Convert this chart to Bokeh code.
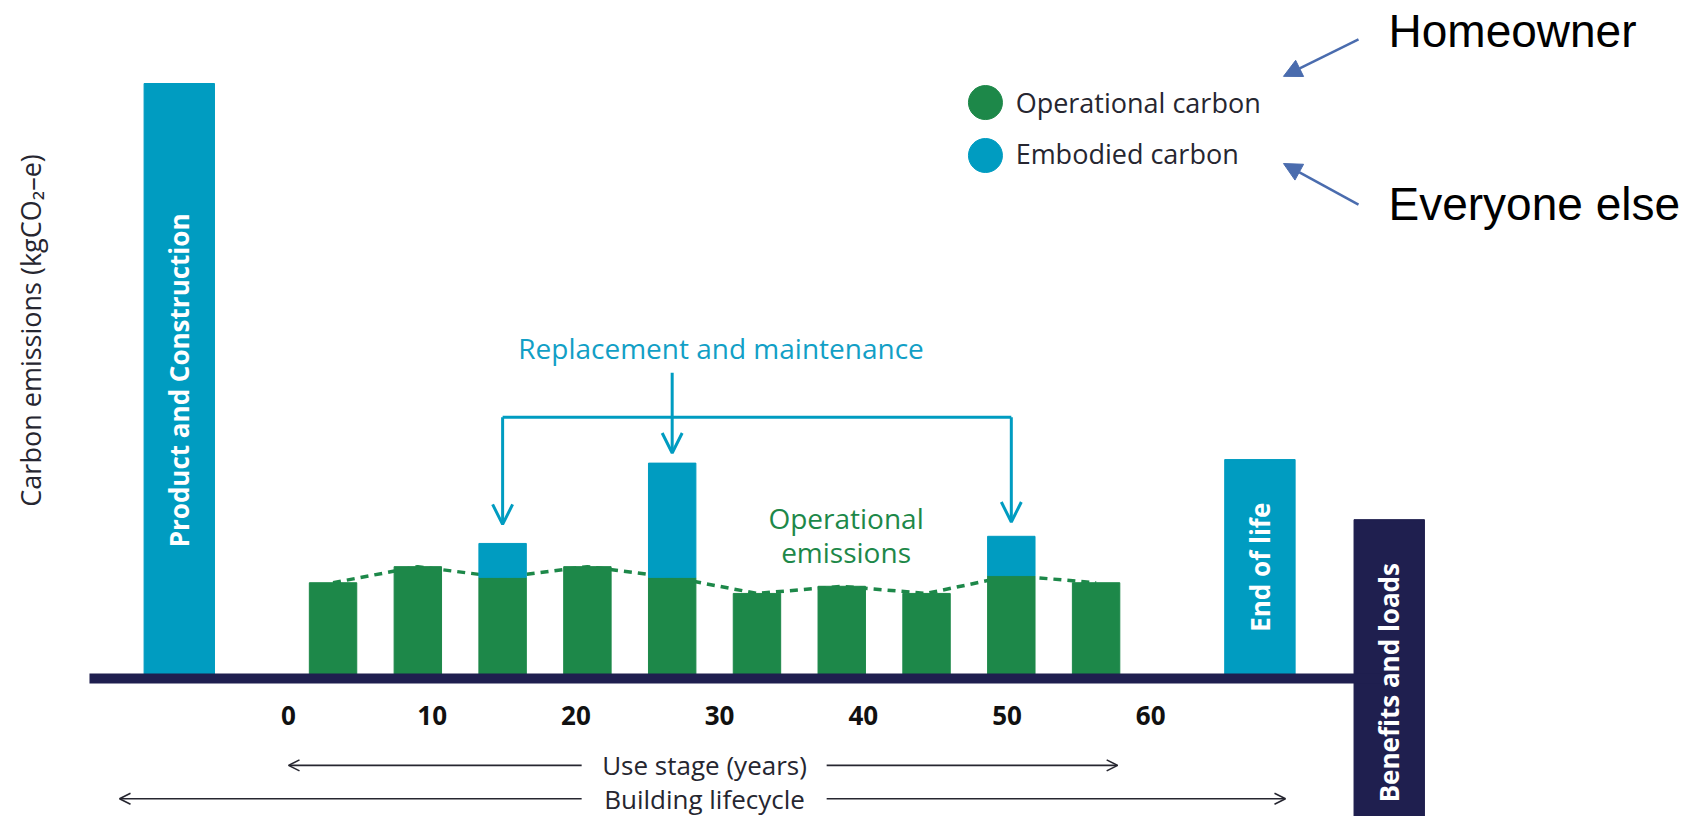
import math
from bokeh.plotting import figure
from bokeh.models import Range1d, Arrow, OpenHead, NormalHead
from bokeh.core.properties import value
from bokeh.embed import file_html
from bokeh.resources import INLINE

# ---------------- data ----------------
tick_years = [0, 10, 20, 30, 40, 50, 60]
tick_labels = ["0", "10", "20", "30", "40", "50", "60"]

use_year = [3.1, 9.0, 14.9, 20.8, 26.7, 32.6, 38.5, 44.4, 50.3, 56.2]
operational = [16.1, 18.8, 17.0, 18.8, 17.0, 14.3, 15.5, 14.3, 17.3, 16.1]
embodied = [0.0, 0.0, 5.7, 0.0, 19.2, 0.0, 0.0, 0.0, 6.6, 0.0]

stage_names = ["Product and Construction", "End of life", "Benefits and loads"]
stage_x = [-7.6, 67.6, 76.6]
stage_top = [100.0, 36.8, 26.7]
stage_bottom = [0.0, 0.0, -30.0]

legend_labels = ["Operational carbon", "Embodied carbon"]
role_labels = ["Homeowner", "Everyone else"]

GREEN = "#1d8849"
CYAN = "#009cc1"
NAVY = "#1f1f4f"
STEEL = "#4a6cae"
DARK = "#262630"

FONT = value("Open Sans")

p = figure(width=1688, height=816,
           x_range=Range1d(-20.042, 97.425), y_range=Range1d(-23.19, 113.95),
           output_backend="svg", toolbar_location=None,
           x_axis_location=None, y_axis_location=None, min_border=0)
p.grid.visible = False
p.outline_line_color = None
p.background_fill_color = "white"
p.border_fill_color = "white"

# dashed operational trend (behind bars)
p.line(use_year, operational, line_dash="8 6", line_width=3.5, color=GREEN)

# use-stage bars
p.vbar(x=use_year, width=3.3, bottom=0, top=operational, color=GREEN)
emb_x = [x for x, e in zip(use_year, embodied) if e > 0]
emb_bot = [o for o, e in zip(operational, embodied) if e > 0]
emb_top = [o + e for o, e in zip(operational, embodied) if e > 0]
p.vbar(x=emb_x, width=3.3, bottom=emb_bot, top=emb_top, color=CYAN)

# stage bars
p.vbar(x=stage_x, width=4.9, bottom=stage_bottom, top=stage_top,
       color=[CYAN, CYAN, NAVY])

# baseline
p.segment(x0=[-13.85], y0=[0.0], x1=[stage_x[2]], y1=[0.0], line_width=10, color=NAVY)

# stage labels (rotated)
stage_label_y = [50.1, 18.7, -0.7]
p.text(x=stage_x, y=stage_label_y, text=stage_names, angle=math.pi / 2,
       text_font=FONT, text_font_style="bold", text_font_size="26px",
       text_color="white", text_align="center", text_baseline="middle")

# y axis title
p.text(x=[-17.95], y=[58.5], text=["Carbon emissions (kgCO\u2082\u2013e)"], angle=math.pi / 2,
       text_font=FONT, text_font_size="27px", text_color=DARK,
       text_align="center", text_baseline="middle")

# year tick labels
p.text(x=tick_years, y=[-6.2] * len(tick_years), text=tick_labels,
       text_font=FONT, text_font_style="bold", text_font_size="26px",
       text_color="#111111", text_align="center", text_baseline="middle")

# use stage / building lifecycle arrows
mid_x = 28.95
for yy, x_left, x_right, label in [(-14.6, 0.0, 57.7, "Use stage (years)"),
                                   (-20.2, -11.76, 69.38, "Building lifecycle")]:
    p.text(x=[mid_x], y=[yy], text=[label], text_font=FONT, text_font_size="26px",
           text_color=DARK, text_align="center", text_baseline="middle")
    p.add_layout(Arrow(x_start=20.4, y_start=yy, x_end=x_left, y_end=yy,
                       line_color=DARK, line_width=1.6,
                       end=OpenHead(size=11, line_color=DARK, line_width=1.6)))
    p.add_layout(Arrow(x_start=37.45, y_start=yy, x_end=x_right, y_end=yy,
                       line_color=DARK, line_width=1.6,
                       end=OpenHead(size=11, line_color=DARK, line_width=1.6)))

# replacement and maintenance bracket
bracket_y = 43.9
p.text(x=[30.1], y=[55.5], text=["Replacement and maintenance"], text_font=FONT,
       text_font_size="28px", text_color="#129fc6", text_align="center",
       text_baseline="middle")
p.segment(x0=[emb_x[0]], y0=[bracket_y], x1=[emb_x[-1]], y1=[bracket_y],
          line_width=3, color=CYAN)
gaps = [3.2, 1.7, 2.4]
for i, (bx, bt) in enumerate(zip(emb_x, emb_top)):
    start_y = 51.4 if i == 1 else bracket_y
    p.add_layout(Arrow(x_start=bx, y_start=start_y, x_end=bx, y_end=bt + gaps[i],
                       line_color=CYAN, line_width=3,
                       end=OpenHead(size=20, line_color=CYAN, line_width=3)))

# operational emissions label
p.text(x=[38.8, 38.8], y=[26.9, 21.2], text=["Operational", "emissions"],
       text_font=FONT, text_font_size="28px", text_color=GREEN,
       text_align="center", text_baseline="middle")

# legend
p.scatter(x=[48.5, 48.5], y=[96.8, 87.9], size=34, color=[GREEN, CYAN])
p.text(x=[50.6, 50.6], y=[96.8, 88.2], text=legend_labels, text_font=FONT,
       text_font_size="27px", text_color=DARK, text_align="left",
       text_baseline="middle")

# role annotations
p.text(x=[76.55, 76.55], y=[108.9, 79.8], text=role_labels,
       text_font=value("Liberation Sans"), text_font_size="46px",
       text_color="black", text_align="left", text_baseline="middle")
for ys, ye in [(107.4, 101.2), (79.66, 86.55)]:
    p.add_layout(Arrow(x_start=74.46, y_start=ys, x_end=69.24, y_end=ye,
                       line_color=STEEL, line_width=2.5,
                       end=NormalHead(size=18, fill_color=STEEL, line_color=STEEL)))

open("out.html", "w").write(file_html(p, INLINE))
